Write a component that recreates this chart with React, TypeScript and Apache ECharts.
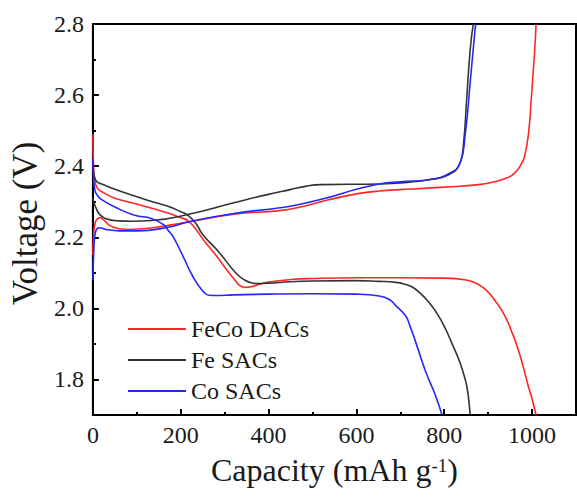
import React, { useEffect, useRef } from "react";
import * as echarts from "echarts";

const FONT = "'Liberation Serif', 'Times New Roman', serif";

const seriesNames = ["FeCo DACs", "Fe SACs", "Co SACs"];

// Discharge profiles: capacity (mAh g-1), voltage (V)
const fecoDischarge: [number, number][] = [
  [0, 2.49], [1, 2.42], [3, 2.37], [6, 2.35], [12, 2.335], [25, 2.325],
  [50, 2.31], [95, 2.295], [130, 2.283], [171, 2.268], [200, 2.255],
  [216, 2.247], [235, 2.222], [250, 2.195], [270, 2.165], [287, 2.138],
  [305, 2.108], [325, 2.077], [335, 2.064], [345, 2.059], [360, 2.061],
  [380, 2.068], [400, 2.074], [450, 2.081], [500, 2.084], [600, 2.086],
  [700, 2.086], [800, 2.085], [850, 2.08], [870, 2.072], [893, 2.054],
  [916, 2.021], [938, 1.979], [955, 1.93], [968, 1.886], [980, 1.835],
  [991, 1.783], [1000, 1.745], [1009, 1.7],
];

const feDischarge: [number, number][] = [
  [0, 2.42], [2, 2.38], [5, 2.365], [10, 2.355], [20, 2.35], [50, 2.335],
  [95, 2.316], [130, 2.302], [171, 2.287], [200, 2.272], [216, 2.262],
  [235, 2.238], [250, 2.208], [287, 2.158], [325, 2.1], [345, 2.08],
  [360, 2.072], [375, 2.07], [400, 2.071], [450, 2.075], [500, 2.077],
  [600, 2.078], [650, 2.076], [690, 2.073], [710, 2.068], [727, 2.06],
  [745, 2.043], [765, 2.017], [785, 1.983], [803, 1.942], [818, 1.9],
  [833, 1.857], [843, 1.82], [851, 1.783], [856, 1.74], [859, 1.7],
];

const coDischarge: [number, number][] = [
  [0, 2.42], [2, 2.36], [5, 2.33], [10, 2.318], [20, 2.306], [50, 2.285],
  [95, 2.262], [133, 2.253], [160, 2.236], [171, 2.22], [182, 2.203],
  [205, 2.147], [227, 2.091], [250, 2.049], [265, 2.037], [280, 2.036],
  [320, 2.038], [400, 2.04], [500, 2.041], [600, 2.04], [652, 2.035],
  [675, 2.025], [690, 2.007], [712, 1.979], [722, 1.95], [735, 1.905],
  [758, 1.821], [780, 1.755], [795, 1.7],
];

// Charge profiles
const fecoCharge: [number, number][] = [
  [0, 2.15], [2, 2.21], [5, 2.24], [10, 2.252], [16, 2.255], [25, 2.248],
  [40, 2.232], [60, 2.224], [80, 2.222], [133, 2.226], [216, 2.243],
  [321, 2.265], [426, 2.275], [472, 2.285], [539, 2.306], [600, 2.322],
  [652, 2.33], [727, 2.336], [800, 2.341], [878, 2.348], [916, 2.357],
  [945, 2.368], [961, 2.381], [975, 2.405], [983, 2.428], [992, 2.493],
  [998, 2.587], [1006, 2.727], [1009, 2.8],
];

const feCharge: [number, number][] = [
  [0, 2.31], [3, 2.295], [8, 2.28], [15, 2.265], [30, 2.252], [60, 2.246],
  [88, 2.245], [133, 2.247], [216, 2.264], [321, 2.297], [397, 2.32],
  [449, 2.334], [487, 2.344], [520, 2.348], [652, 2.35], [720, 2.355],
  [765, 2.362], [810, 2.376], [836, 2.409], [844, 2.465], [851, 2.587],
  [859, 2.727], [866, 2.8],
];

const coCharge: [number, number][] = [
  [0, 2.08], [2, 2.16], [5, 2.21], [10, 2.225], [15, 2.227], [30, 2.222],
  [60, 2.218], [100, 2.218], [171, 2.228], [216, 2.243], [321, 2.267],
  [426, 2.283], [472, 2.293], [539, 2.313], [600, 2.335], [652, 2.35],
  [700, 2.356], [765, 2.362], [810, 2.379], [836, 2.409], [848, 2.493],
  [859, 2.634], [870, 2.783], [872, 2.8],
];

const curves: { name: string; data: [number, number][]; color: string }[] = [
  { name: seriesNames[0], data: fecoDischarge, color: "#ff2626" },
  { name: seriesNames[0], data: fecoCharge, color: "#ff2626" },
  { name: seriesNames[1], data: feDischarge, color: "#333333" },
  { name: seriesNames[1], data: feCharge, color: "#333333" },
  { name: seriesNames[2], data: coDischarge, color: "#2626ff" },
  { name: seriesNames[2], data: coCharge, color: "#2626ff" },
];

export default function App() {
  const ref = useRef<HTMLDivElement>(null);

  useEffect(() => {
    document.body.style.margin = "0";
    if (!ref.current) return;
    const chart = echarts.init(ref.current, undefined, { renderer: "svg" });

    const textColor = "#1a1a1a";
    const tickFont = { fontSize: 24, fontFamily: FONT, color: textColor };

    chart.setOption({
      animation: false,
      backgroundColor: "#ffffff",
      textStyle: { fontFamily: FONT, color: textColor },
      grid: {
        left: 91,
        right: 1,
        top: 24,
        bottom: 84,
        show: true,
        borderColor: "#000",
        borderWidth: 2,
        backgroundColor: "transparent",
      },
      legend: {
        orient: "vertical",
        left: 123,
        top: 312,
        icon: "rect",
        itemWidth: 58,
        itemHeight: 2,
        itemGap: 7,
        data: seriesNames,
        textStyle: { ...tickFont },
      },
      xAxis: [
        {
          type: "value",
          min: 0,
          max: 1100,
          interval: 200,
          position: "bottom",
          axisLine: { show: true, lineStyle: { color: "#000", width: 2 } },
          axisTick: { inside: true, length: 6, lineStyle: { color: "#000", width: 2 } },
          axisLabel: {
            ...tickFont,
            margin: 8,
            showMaxLabel: false,
            formatter: (v: number) => String(Math.round(v)),
          },
          splitLine: { show: false },
          name: "{t|Capacity (mAh g}{s|-1}{t|)}",
          nameLocation: "middle",
          nameGap: 22,
          nameTextStyle: {
            rich: {
              t: { fontSize: 32, fontFamily: FONT, color: textColor, lineHeight: 36 },
              s: {
                fontSize: 19,
                fontFamily: FONT,
                color: textColor,
                lineHeight: 19,
                verticalAlign: "top",
                padding: [4, 0, 0, 0],
              },
            },
          },
        },
        {
          type: "value",
          min: 0,
          max: 1100,
          interval: 100,
          position: "bottom",
          axisLine: { show: false },
          axisTick: { inside: true, length: 3, lineStyle: { color: "#000", width: 2 } },
          axisLabel: { show: false },
          splitLine: { show: false },
        },
      ],
      yAxis: [
        {
          type: "value",
          min: 1.7,
          max: 2.8,
          splitNumber: 5,
          position: "left",
          axisLine: { show: true, lineStyle: { color: "#000", width: 2 } },
          axisTick: { inside: true, length: 6, lineStyle: { color: "#000", width: 2 } },
          axisLabel: {
            ...tickFont,
            margin: 9,
            showMinLabel: false,
            formatter: (v: number) => v.toFixed(1),
          },
          splitLine: { show: false },
          name: "Voltage (V)",
          nameLocation: "middle",
          nameGap: 44,
          nameTextStyle: {
            fontSize: 35,
            fontFamily: FONT,
            color: textColor,
            padding: [0, 8, 0, 0],
          },
        },
        {
          type: "value",
          min: 1.7,
          max: 2.8,
          interval: 0.1,
          position: "left",
          axisLine: { show: false },
          axisTick: { inside: true, length: 3, lineStyle: { color: "#000", width: 2 } },
          axisLabel: { show: false },
          splitLine: { show: false },
        },
      ],
      series: curves.map((c) => ({
        type: "line",
        name: c.name,
        data: c.data,
        xAxisIndex: 0,
        yAxisIndex: 0,
        symbol: "none",
        showSymbol: false,
        smooth: 0.5,
        clip: true,
        color: c.color,
        lineStyle: { color: c.color, width: 1.6 },
      })),
    });

    return () => chart.dispose();
  }, []);

  return <div ref={ref} style={{ width: 577, height: 499 }} />;
}
